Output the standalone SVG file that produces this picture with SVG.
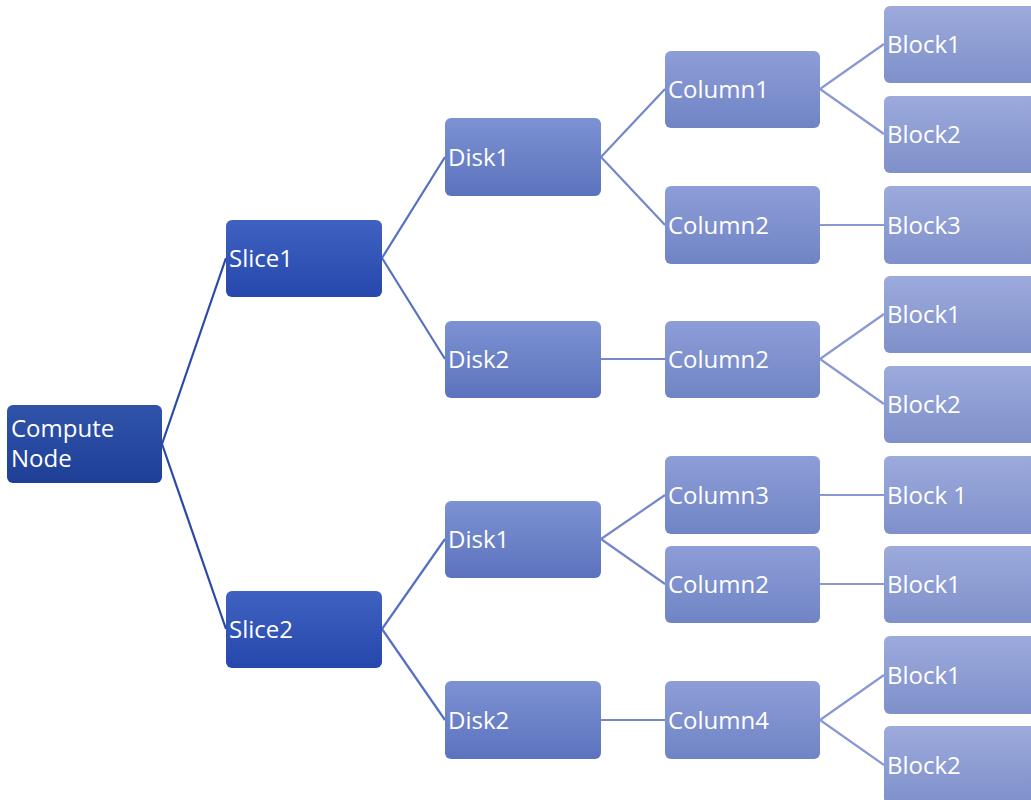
<svg xmlns="http://www.w3.org/2000/svg" width="1031" height="800" viewBox="0 0 1031 800">
<defs>
<linearGradient id="g0" x1="0" y1="0" x2="0" y2="1"><stop offset="0" stop-color="#3053aa"/><stop offset="1" stop-color="#1f3f97"/></linearGradient>
<linearGradient id="g1" x1="0" y1="0" x2="0" y2="1"><stop offset="0" stop-color="#3f62c1"/><stop offset="1" stop-color="#2647ac"/></linearGradient>
<linearGradient id="g2" x1="0" y1="0" x2="0" y2="1"><stop offset="0" stop-color="#7c92d3"/><stop offset="1" stop-color="#5c72bd"/></linearGradient>
<linearGradient id="g3" x1="0" y1="0" x2="0" y2="1"><stop offset="0" stop-color="#8d9dd8"/><stop offset="1" stop-color="#7084c4"/></linearGradient>
<linearGradient id="g4" x1="0" y1="0" x2="0" y2="1"><stop offset="0" stop-color="#9caadc"/><stop offset="1" stop-color="#7f90ca"/></linearGradient>
</defs>
<style>
text{font-family:"Open Sans","Liberation Sans",sans-serif;font-size:24px;fill:#ffffff}
.l0{stroke:#2a48a6;stroke-width:2.2;fill:none}
.l1{stroke:#5570c2;stroke-width:2.2;fill:none}
.l2{stroke:#7387c9;stroke-width:2.2;fill:none}
.l3{stroke:#8898d2;stroke-width:2.2;fill:none}
</style>
<g id="connectors">
<line class="l0" x1="162" y1="444" x2="226" y2="258"/>
<line class="l0" x1="162" y1="444" x2="226" y2="629"/>
<line class="l1" x1="382" y1="258" x2="445" y2="157"/>
<line class="l1" x1="382" y1="258" x2="445" y2="359"/>
<line class="l1" x1="382" y1="629" x2="445" y2="539"/>
<line class="l1" x1="382" y1="629" x2="445" y2="720"/>
<line class="l2" x1="601" y1="157" x2="665" y2="89"/>
<line class="l2" x1="601" y1="157" x2="665" y2="225"/>
<line class="l2" x1="601" y1="359" x2="665" y2="359"/>
<line class="l2" x1="601" y1="539" x2="665" y2="495"/>
<line class="l2" x1="601" y1="539" x2="665" y2="584"/>
<line class="l2" x1="601" y1="720" x2="665" y2="720"/>
<line class="l3" x1="820" y1="89" x2="884" y2="44"/>
<line class="l3" x1="820" y1="89" x2="884" y2="134"/>
<line class="l3" x1="820" y1="225" x2="884" y2="225"/>
<line class="l3" x1="820" y1="359" x2="884" y2="314"/>
<line class="l3" x1="820" y1="359" x2="884" y2="404"/>
<line class="l3" x1="820" y1="495" x2="884" y2="495"/>
<line class="l3" x1="820" y1="584" x2="884" y2="584"/>
<line class="l3" x1="820" y1="720" x2="884" y2="675"/>
<line class="l3" x1="820" y1="720" x2="884" y2="765"/>
</g>
<g id="compute"><rect x="7" y="405" width="155" height="78" rx="6" fill="url(#g0)"/><text x="11" y="437">Compute</text><text x="11" y="467">Node</text></g>
<g id="slice1"><rect x="226" y="220" width="156" height="77" rx="6" fill="url(#g1)"/><text x="229" y="267">Slice1</text></g>
<g id="slice2"><rect x="226" y="591" width="156" height="77" rx="6" fill="url(#g1)"/><text x="229" y="638">Slice2</text></g>
<g id="disk1a"><rect x="445" y="118" width="156" height="78" rx="6" fill="url(#g2)"/><text x="448" y="166">Disk1</text></g>
<g id="disk2a"><rect x="445" y="321" width="156" height="77" rx="6" fill="url(#g2)"/><text x="448" y="368">Disk2</text></g>
<g id="disk1b"><rect x="445" y="501" width="156" height="77" rx="6" fill="url(#g2)"/><text x="448" y="548">Disk1</text></g>
<g id="disk2b"><rect x="445" y="681" width="156" height="78" rx="6" fill="url(#g2)"/><text x="448" y="729">Disk2</text></g>
<g id="col1"><rect x="665" y="51" width="155" height="77" rx="6" fill="url(#g3)"/><text x="668" y="98">Column1</text></g>
<g id="col2a"><rect x="665" y="186" width="155" height="78" rx="6" fill="url(#g3)"/><text x="668" y="234">Column2</text></g>
<g id="col2b"><rect x="665" y="321" width="155" height="77" rx="6" fill="url(#g3)"/><text x="668" y="368">Column2</text></g>
<g id="col3"><rect x="665" y="456" width="155" height="78" rx="6" fill="url(#g3)"/><text x="668" y="504">Column3</text></g>
<g id="col2c"><rect x="665" y="546" width="155" height="77" rx="6" fill="url(#g3)"/><text x="668" y="593">Column2</text></g>
<g id="col4"><rect x="665" y="681" width="155" height="78" rx="6" fill="url(#g3)"/><text x="668" y="729">Column4</text></g>
<g id="b1"><rect x="884" y="6" width="160" height="77" rx="6" fill="url(#g4)"/><text x="887" y="53">Block1</text></g>
<g id="b2"><rect x="884" y="96" width="160" height="77" rx="6" fill="url(#g4)"/><text x="887" y="143">Block2</text></g>
<g id="b3"><rect x="884" y="186" width="160" height="78" rx="6" fill="url(#g4)"/><text x="887" y="234">Block3</text></g>
<g id="b4"><rect x="884" y="276" width="160" height="77" rx="6" fill="url(#g4)"/><text x="887" y="323">Block1</text></g>
<g id="b5"><rect x="884" y="366" width="160" height="77" rx="6" fill="url(#g4)"/><text x="887" y="413">Block2</text></g>
<g id="b6"><rect x="884" y="456" width="160" height="78" rx="6" fill="url(#g4)"/><text x="887" y="504">Block 1</text></g>
<g id="b7"><rect x="884" y="546" width="160" height="77" rx="6" fill="url(#g4)"/><text x="887" y="593">Block1</text></g>
<g id="b8"><rect x="884" y="636" width="160" height="78" rx="6" fill="url(#g4)"/><text x="887" y="684">Block1</text></g>
<g id="b9"><rect x="884" y="726" width="160" height="78" rx="6" fill="url(#g4)"/><text x="887" y="774">Block2</text></g>
</svg>
